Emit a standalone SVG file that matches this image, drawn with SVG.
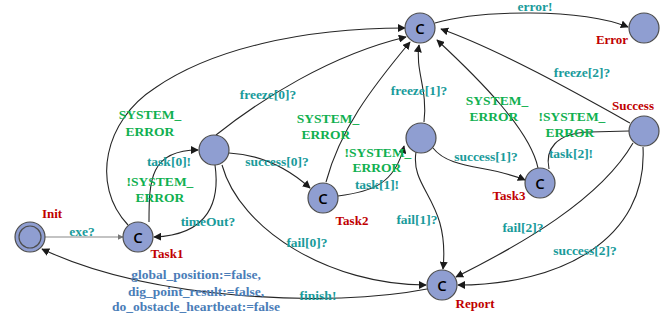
<svg xmlns="http://www.w3.org/2000/svg" width="669" height="320" viewBox="0 0 669 320">
<style>
.n{fill:#8f9ed1;stroke:#4d4d4d;stroke-width:1.2}
.e{fill:none;stroke:#262626;stroke-width:1.1}
.c{font-family:"Open Sans","Liberation Sans",sans-serif;font-size:15px;font-weight:600;fill:#000;text-anchor:middle}
.t{font-family:"Liberation Serif",serif;font-weight:bold;font-size:13.5px;text-anchor:middle}
.tl{fill:#1a9b9b}
.g{fill:#10b050}
.r{fill:#c00000;font-size:13px}
.b{fill:#4a7db8}
</style>
<defs>
<marker id="ar" viewBox="0 0 10 10" refX="9" refY="5" markerWidth="8" markerHeight="8" markerUnits="userSpaceOnUse" orient="auto">
<path d="M0,0L10,5L0,10z" fill="#1a1a1a"/>
</marker>
<marker id="arg" viewBox="0 0 10 10" refX="9" refY="5" markerWidth="6" markerHeight="6" markerUnits="userSpaceOnUse" orient="auto">
<path d="M0,0L10,5L0,10z" fill="#777"/>
</marker>
</defs>
<g id="connectors">
<path class="e" d="M45,237L123,237" style="stroke:#888" marker-end="url(#arg)"/>
<path class="e" d="M427,289C330,308 150,300 42,249" marker-end="url(#ar)"/>
<path class="e" d="M128,225C90,185 105,120 155,88C210,50 300,28 405,28" marker-end="url(#ar)"/>
<path class="e" d="M149,222C149,180 150,150 198,150" marker-end="url(#ar)"/>
<path class="e" d="M215,165C220,200 210,235 154,237" marker-end="url(#ar)"/>
<path class="e" d="M216,135C260,100 330,55 406,37" marker-end="url(#ar)"/>
<path class="e" d="M229,153C265,155 290,170 310,188" marker-end="url(#ar)"/>
<path class="e" d="M222,165C240,230 330,285 426,285" marker-end="url(#ar)"/>
<path class="e" d="M326,182C340,130 370,90 410,42" marker-end="url(#ar)"/>
<path class="e" d="M424,122C428,90 415,70 419,45" marker-end="url(#ar)"/>
<path class="e" d="M538,168C530,130 480,80 437,40" marker-end="url(#ar)"/>
<path class="e" d="M630,123C580,95 500,50 441,29" marker-end="url(#ar)"/>
<path class="e" d="M435,23C480,10 580,8 628,27" marker-end="url(#ar)"/>
<path class="e" d="M338,196C370,192 395,185 404,146" marker-end="url(#ar)"/>
<path class="e" d="M433,148C450,170 490,165 525,180" marker-end="url(#ar)"/>
<path class="e" d="M416,152C410,190 450,200 443,269" marker-end="url(#ar)"/>
<path class="e" d="M549,169C545,150 555,133 590,132L629,131"/>
<path class="e" d="M633,143C600,200 520,245 456,277" marker-end="url(#ar)"/>
<path class="e" d="M643,147C648,240 560,285 458,285" marker-end="url(#ar)"/>
</g>
<g id="Init"><circle class="n" cx="30" cy="237" r="15"/><circle class="n" cx="30" cy="237" r="11"/></g>
<g id="Task1"><circle class="n" cx="138" cy="237" r="15"/><text class="c" x="138" y="243">C</text></g>
<g id="A"><circle class="n" cx="214" cy="150" r="15"/></g>
<g id="Task2"><circle class="n" cx="323" cy="198" r="15"/><text class="c" x="323" y="204">C</text></g>
<g id="Top"><circle class="n" cx="420" cy="28" r="15"/><text class="c" x="420" y="34">C</text></g>
<g id="B"><circle class="n" cx="421" cy="138" r="15"/></g>
<g id="Task3"><circle class="n" cx="540" cy="183" r="15"/><text class="c" x="540" y="189">C</text></g>
<g id="Success"><circle class="n" cx="644" cy="131" r="15"/></g>
<g id="Error"><circle class="n" cx="644" cy="28" r="15"/></g>
<g id="Report"><circle class="n" cx="442" cy="285" r="15"/><text class="c" x="442" y="291">C</text></g>
<g id="labels">
<text class="t r" x="52" y="218">Init</text>
<text class="t tl" x="82" y="236">exe?</text>
<text class="t r" x="167" y="258">Task1</text>
<text class="t b" x="196" y="279">global_position:=false,</text>
<text class="t b" x="196" y="296">dig_point_result:=false,</text>
<text class="t b" x="196" y="311">do_obstacle_heartbeat:=false</text>
<text class="t tl" x="318" y="300">finish!</text>
<text class="t r" x="475" y="308">Report</text>
<text class="t tl" x="208" y="226">timeOut?</text>
<text class="t tl" x="169" y="166">task[0]!</text>
<text class="t g" x="160" y="186">!SYSTEM_</text>
<text class="t g" x="160" y="202">ERROR</text>
<text class="t g" x="150" y="119">SYSTEM_</text>
<text class="t g" x="150" y="136">ERROR</text>
<text class="t tl" x="268" y="99">freeze[0]?</text>
<text class="t tl" x="277" y="166">success[0]?</text>
<text class="t g" x="328" y="123">SYSTEM_</text>
<text class="t g" x="326" y="139">ERROR</text>
<text class="t tl" x="307" y="247">fail[0]?</text>
<text class="t r" x="352" y="225">Task2</text>
<text class="t g" x="378" y="157">!SYSTEM_</text>
<text class="t g" x="377" y="172">ERROR</text>
<text class="t tl" x="377" y="189">task[1]!</text>
<text class="t tl" x="419" y="95">freeze[1]?</text>
<text class="t tl" x="417" y="224">fail[1]?</text>
<text class="t g" x="497" y="105">SYSTEM_</text>
<text class="t g" x="494" y="121">ERROR</text>
<text class="t tl" x="486" y="161">success[1]?</text>
<text class="t r" x="509" y="200">Task3</text>
<text class="t g" x="572" y="121">!SYSTEM_</text>
<text class="t g" x="570" y="137">ERROR</text>
<text class="t tl" x="571" y="158">task[2]!</text>
<text class="t r" x="633" y="110">Success</text>
<text class="t tl" x="582" y="77">freeze[2]?</text>
<text class="t tl" x="535" y="11">error!</text>
<text class="t r" x="612" y="44">Error</text>
<text class="t tl" x="523" y="232">fail[2]?</text>
<text class="t tl" x="585" y="255">success[2]?</text>
</g>
</svg>
